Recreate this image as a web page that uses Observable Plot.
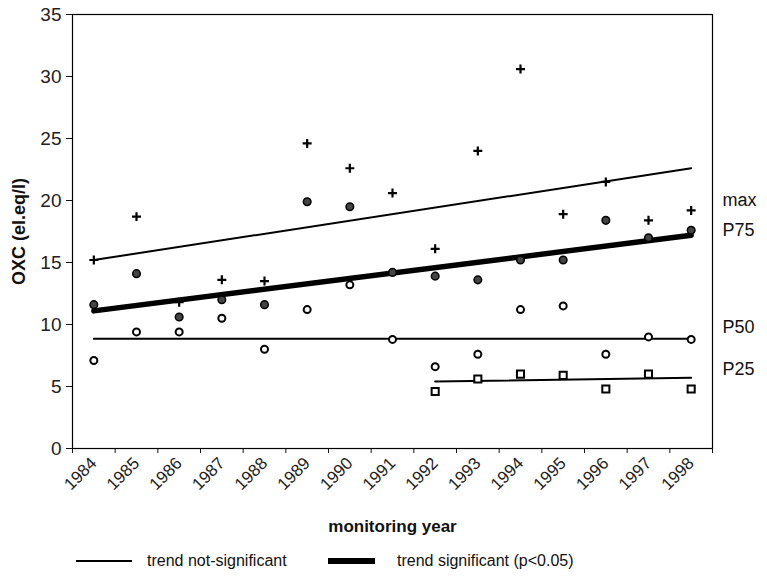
<!DOCTYPE html>
<html><head><meta charset="utf-8">
<script src="https://cdn.jsdelivr.net/npm/d3@7"></script>
<script src="https://cdn.jsdelivr.net/npm/@observablehq/plot@0.6"></script>
<style>
body{margin:0;background:#fff;font-family:"Liberation Sans",Arial,sans-serif;}
#chart svg{display:block}
#legend{position:relative;width:767px;height:36px;font-size:16px;color:#111}
#legend .ln{position:absolute;background:#000}
#legend .tx{position:absolute;top:12px;line-height:18px;white-space:nowrap}
</style></head><body>
<div id="chart"></div>
<div id="legend">
  <div class="ln" style="left:76px;top:20px;width:56px;height:1.5px"></div>
  <div class="tx" style="left:147px">trend not-significant</div>
  <div class="ln" style="left:328px;top:18px;width:47px;height:6px"></div>
  <div class="tx" style="left:397px">trend significant (p&lt;0.05)</div>
</div>
<script>
const years = [1984,1985,1986,1987,1988,1989,1990,1991,1992,1993,1994,1995,1996,1997,1998];
const maxVals = [15.2,18.7,11.8,13.6,13.5,24.6,22.6,20.6,16.1,24.0,30.6,18.9,21.5,18.4,19.2];
const p75Vals = [11.6,14.1,10.6,12.0,11.6,19.9,19.5,14.2,13.9,13.6,15.2,15.2,18.4,17.0,17.6];
const p50Vals = [7.1,9.4,9.4,10.5,8.0,11.2,13.2,8.8,6.6,7.6,11.2,11.5,7.6,9.0,8.8];
const p25Years = [1992,1993,1994,1995,1996,1997,1998];
const p25Vals = [4.6,5.6,6.0,5.9,4.8,6.0,4.8];

// trend lines: series, start year, start value, end year, end value, significant
const trendSeries = ["max","P75","P50","P25"];
const trendStartYear = [1984,1984,1984,1992];
const trendStartVal = [15.2,11.1,8.85,5.4];
const trendEndYear = [1998,1998,1998,1998];
const trendEndVal = [22.6,17.2,8.85,5.7];
const trendSignificant = [false,true,false,false];

const seriesLabels = ["max","P75","P50","P25"];
const seriesLabelY = [20.0,17.6,9.8,6.4];

const yTicks = [0,5,10,15,20,25,30,35];
const yLabel = "OXC (el.eq/l)";
const xLabel = "monitoring year";

const pts = (xs, vs) => xs.map((x,i)=>({x, v: vs[i]}));
const maxPts = pts(years, maxVals);
const p75Pts = pts(years, p75Vals);
const p50Pts = pts(years, p50Vals);
const p25Pts = pts(p25Years, p25Vals);

const trends = [];
trendSeries.forEach((s,i)=>{
  trends.push({s, x: trendStartYear[i], v: trendStartVal[i], sig: trendSignificant[i]});
  trends.push({s, x: trendEndYear[i], v: trendEndVal[i], sig: trendSignificant[i]});
});
const half = 0.5;
const boundaries = [years[0]-half, ...years.map(y=>y+half)];

const plot = Plot.plot({
  width: 767, height: 540,
  marginLeft: 72, marginRight: 55, marginTop: 14, marginBottom: 92,
  style: {fontFamily: "Liberation Sans, Arial, sans-serif", fontSize: "15px", color: "#111"},
  x: {type: "linear", domain: [years[0]-half, years[years.length-1]+half]},
  y: {domain: [0, 35]},
  marks: [
    Plot.frame({stroke: "#000", strokeWidth: 1.2}),
    Plot.axisY({ticks: yTicks, tickSize: 6, tickPadding: 5, label: null, fill: "#222", fontSize: 19}),
    Plot.axisX({ticks: years, tickSize: 0, tickRotate: -45, tickPadding: 12, label: null, tickFormat: d=>String(d), fill: "#222", fontSize: 17}),
    Plot.axisX({ticks: boundaries, tickSize: 5, tickFormat: ()=>"", label: null}),
    Plot.line(trends.filter(d=>!d.sig), {x: "x", y: "v", z: "s", stroke: "#000", strokeWidth: 2}),
    Plot.line(trends.filter(d=>d.sig), {x: "x", y: "v", z: "s", stroke: "#000", strokeWidth: 5.5}),
    Plot.dot(maxPts, {x: "x", y: "v", symbol: "plus", r: 3, stroke: "#000", strokeWidth: 2.2}),
    Plot.dot(p75Pts, {x: "x", y: "v", symbol: "circle", r: 3.8, fill: "#444", stroke: "#000", strokeWidth: 1.5}),
    Plot.dot(p50Pts, {x: "x", y: "v", symbol: "circle", r: 3.5, fill: "#fff", stroke: "#000", strokeWidth: 2}),
    Plot.dot(p25Pts, {x: "x", y: "v", symbol: "square", r: 4, fill: "#fff", stroke: "#000", strokeWidth: 2}),
    Plot.text(seriesLabels, {y: (d,i)=>seriesLabelY[i], text: d=>d, frameAnchor: "right", dx: 10, textAnchor: "start", fontSize: 18}),
    Plot.text([yLabel], {text: d=>d, frameAnchor: "left", textAnchor: "middle", rotate: -90, dx: -53, fontWeight: "bold", fontSize: 18}),
    Plot.text([xLabel], {text: d=>d, frameAnchor: "bottom", dy: 83, fontWeight: "bold", fontSize: 17})
  ]
});
document.getElementById("chart").appendChild(plot);
</script>
</body></html>
